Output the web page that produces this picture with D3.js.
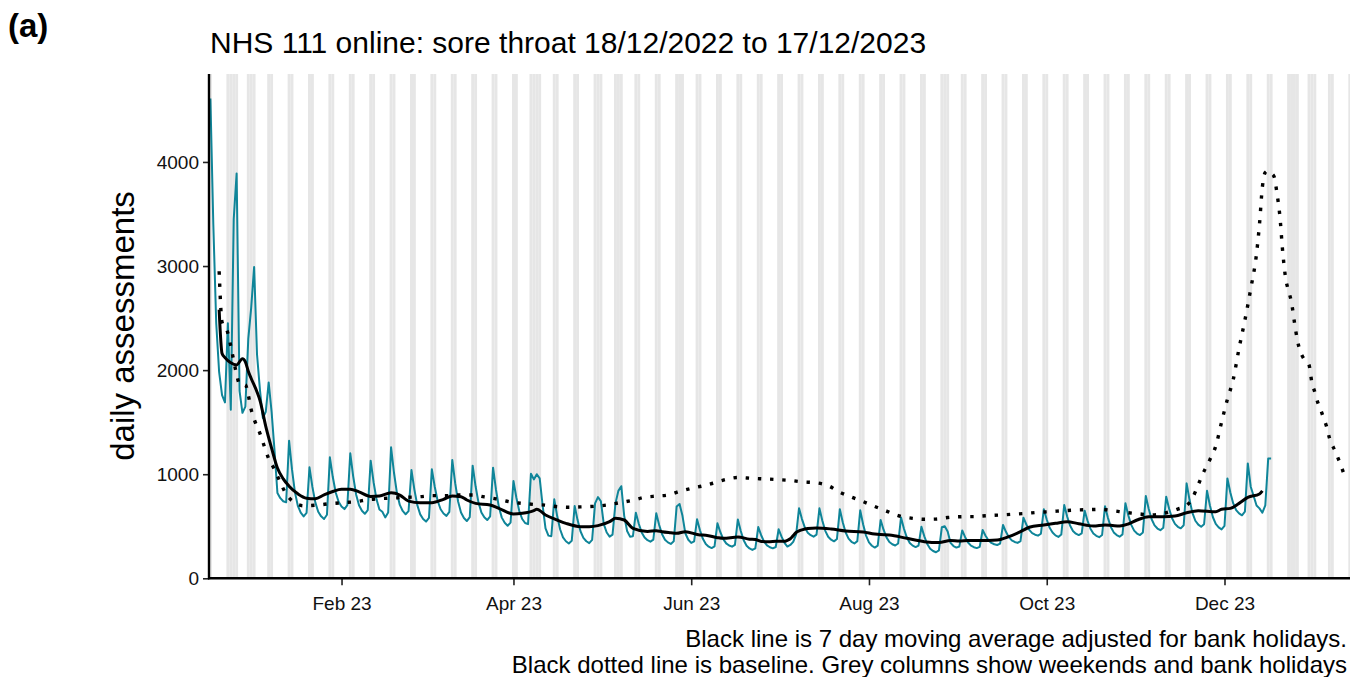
<!DOCTYPE html>
<html>
<head>
<meta charset="utf-8">
<script src="https://cdnjs.cloudflare.com/ajax/libs/d3/7.8.5/d3.min.js"></script>
<style>
  body { margin: 0; background: #ffffff; }
  svg { font-family: "Liberation Sans", Arial, sans-serif; display: block; }
</style>
</head>
<body>
<svg id="canvas"></svg>
<script>
// daily assessments, one row per week (Sun..Sat), from 18/12/2022
let firstDay = "2022-12-18"
let dailyValues = [
    4610, 3400, 2450, 1980, 1760, 1690, 2450,
    1620, 3450, 3890, 1800, 1590, 1650, 2300,
    2600, 2990, 2150, 1810, 1540, 1600, 1880,
    1600, 1230, 820, 770, 740, 730, 1322,
    1046, 828, 697, 631, 595, 628, 1066,
    878, 729, 639, 595, 570, 611, 1162,
    973, 824, 735, 690, 665, 703, 1201,
    980, 806, 701, 649, 620, 656, 1130,
    923, 759, 661, 640, 585, 632, 1258,
    1014, 821, 705, 647, 615, 645, 1040,
    852, 703, 614, 570, 545, 580, 1047,
    877, 743, 663, 622, 600, 638, 1137,
    914, 738, 632, 579, 550, 587, 1082,
    884, 727, 633, 586, 560, 595, 1063,
    851, 684, 583, 533, 505, 535, 935,
    774, 646, 570, 531, 520, 1005, 950,
    1000, 960, 700, 480, 410, 405, 759,
    598, 471, 394, 356, 335, 360, 695,
    559, 452, 388, 356, 338, 369, 720,
    780, 740, 520, 440, 400, 420, 720,
    840, 885, 600, 455, 400, 405, 630,
    524, 441, 391, 366, 352, 371, 624,
    512, 424, 371, 345, 330, 355, 690,
    714, 600, 430, 370, 340, 355, 567,
    462, 379, 329, 304, 290, 307, 528,
    443, 376, 335, 315, 304, 322, 565,
    454, 366, 313, 287, 272, 287, 492,
    414, 353, 317, 298, 288, 301, 471,
    400, 340, 305, 320, 350, 420, 672,
    569, 487, 438, 414, 400, 419, 672,
    552, 456, 399, 371, 355, 377, 663,
    538, 440, 381, 351, 335, 357, 653,
    517, 410, 345, 313, 295, 314, 560,
    467, 393, 349, 327, 315, 334, 584,
    476, 391, 340, 314, 300, 314, 496,
    403, 329, 284, 262, 250, 268, 490,
    500, 450, 340, 310, 295, 305, 460,
    395, 344, 314, 299, 290, 302, 464,
    409, 366, 340, 327, 320, 333, 512,
    447, 395, 365, 349, 340, 357, 582,
    517, 465, 434, 419, 410, 428, 663,
    565, 485, 440, 412, 398, 420, 704,
    594, 507, 455, 429, 415, 431, 650,
    553, 477, 431, 408, 395, 416, 692,
    581, 493, 441, 415, 400, 422, 720,
    604, 513, 458, 430, 415, 441, 790,
    665, 567, 508, 478, 462, 485, 784,
    668, 577, 523, 495, 480, 510, 912,
    754, 628, 553, 516, 495, 519, 841,
    700, 589, 522, 489, 470, 504, 960,
    825, 719, 655, 623, 605, 640, 1104,
    880, 790, 700, 672, 630, 700, 1150,
    1150
]

// 7 day moving average (adjusted for bank holidays)
let maDates = [
    "2022-12-21", "2022-12-22", "2022-12-23", "2022-12-25", "2022-12-27", "2022-12-29", "2022-12-30", "2022-12-31",
    "2023-01-01", "2023-01-03", "2023-01-04", "2023-01-06", "2023-01-08", "2023-01-10", "2023-01-12", "2023-01-14",
    "2023-01-17", "2023-01-20", "2023-01-23", "2023-01-26", "2023-01-29", "2023-02-01", "2023-02-04", "2023-02-07",
    "2023-02-11", "2023-02-14", "2023-02-18", "2023-02-21", "2023-02-24", "2023-02-28", "2023-03-04", "2023-03-08",
    "2023-03-11", "2023-03-14", "2023-03-16", "2023-03-19", "2023-03-24", "2023-03-27", "2023-04-01", "2023-04-04",
    "2023-04-08", "2023-04-09", "2023-04-12", "2023-04-16", "2023-04-19", "2023-04-24", "2023-04-27", "2023-04-30",
    "2023-05-04", "2023-05-06", "2023-05-09", "2023-05-12", "2023-05-17", "2023-05-20", "2023-05-22", "2023-05-25",
    "2023-05-27", "2023-05-30", "2023-06-04", "2023-06-06", "2023-06-10", "2023-06-12", "2023-06-17", "2023-06-21",
    "2023-06-23", "2023-06-25", "2023-06-28", "2023-06-30", "2023-07-03", "2023-07-04", "2023-07-05", "2023-07-06",
    "2023-07-07", "2023-07-08", "2023-07-09", "2023-07-11", "2023-07-14", "2023-07-19", "2023-07-24", "2023-07-30",
    "2023-08-03", "2023-08-05", "2023-08-08", "2023-08-14", "2023-08-20", "2023-08-25", "2023-08-29", "2023-09-01",
    "2023-09-04", "2023-09-08", "2023-09-14", "2023-09-18", "2023-09-22", "2023-09-25", "2023-09-30", "2023-10-04",
    "2023-10-08", "2023-10-12", "2023-10-17", "2023-10-21", "2023-10-23", "2023-10-26", "2023-10-29", "2023-11-01",
    "2023-11-05", "2023-11-10", "2023-11-14", "2023-11-18", "2023-11-22", "2023-11-28", "2023-11-30", "2023-12-03",
    "2023-12-06", "2023-12-09", "2023-12-13", "2023-12-14"
]
let maValues = [
    2580, 2160, 2120, 2070, 2050, 2110, 2080, 1990,
    1920, 1790, 1710, 1460, 1250, 1060, 955, 885,
    812, 770, 765, 802, 834, 855, 855, 830,
    786, 790, 822, 800, 742, 726, 726, 759,
    791, 784, 752, 720, 704, 672, 618, 624,
    650, 663, 608, 560, 528, 496, 496, 506,
    544, 576, 560, 480, 450, 458, 448, 438,
    432, 448, 416, 414, 390, 384, 397, 376,
    372, 354, 352, 355, 355, 365, 380, 410,
    440, 455, 465, 478, 484, 474, 455, 445,
    425, 420, 416, 384, 352, 343, 364, 358,
    362, 362, 368, 400, 448, 490, 512, 528,
    544, 524, 502, 512, 509, 502, 522, 560,
    592, 592, 598, 630, 650, 640, 663, 672,
    720, 778, 810, 840
]

// baseline
let baseDates = [
    "2022-12-21", "2022-12-22", "2022-12-24", "2022-12-25", "2022-12-27", "2022-12-28", "2022-12-30", "2022-12-31",
    "2023-01-01", "2023-01-02", "2023-01-04", "2023-01-05", "2023-01-07", "2023-01-09", "2023-01-11", "2023-01-13",
    "2023-01-15", "2023-01-19", "2023-01-24", "2023-01-28", "2023-02-02", "2023-02-06", "2023-02-10", "2023-02-15",
    "2023-02-19", "2023-02-23", "2023-02-28", "2023-03-04", "2023-03-09", "2023-03-13", "2023-03-18", "2023-03-22",
    "2023-03-26", "2023-03-31", "2023-04-04", "2023-04-08", "2023-04-12", "2023-04-16", "2023-04-20", "2023-04-24",
    "2023-04-29", "2023-05-03", "2023-05-07", "2023-05-12", "2023-05-16", "2023-05-20", "2023-05-24", "2023-05-28",
    "2023-06-01", "2023-06-05", "2023-06-09", "2023-06-13", "2023-06-17", "2023-06-22", "2023-06-26", "2023-07-01",
    "2023-07-05", "2023-07-09", "2023-07-14", "2023-07-18", "2023-07-22", "2023-07-26", "2023-07-30", "2023-08-03",
    "2023-08-07", "2023-08-11", "2023-08-16", "2023-08-20", "2023-08-24", "2023-08-28", "2023-09-02", "2023-09-06",
    "2023-09-10", "2023-09-15", "2023-09-19", "2023-09-24", "2023-09-28", "2023-10-02", "2023-10-07", "2023-10-11",
    "2023-10-16", "2023-10-20", "2023-10-24", "2023-10-29", "2023-11-02", "2023-11-06", "2023-11-11", "2023-11-15",
    "2023-11-18", "2023-11-20", "2023-11-22", "2023-11-24", "2023-11-26", "2023-11-28", "2023-11-30", "2023-12-02",
    "2023-12-04", "2023-12-06", "2023-12-08", "2023-12-10", "2023-12-12", "2023-12-13", "2023-12-14", "2023-12-15",
    "2023-12-16", "2023-12-17", "2023-12-18", "2023-12-19", "2023-12-20", "2023-12-21", "2023-12-22", "2023-12-23",
    "2023-12-24", "2023-12-25", "2023-12-26", "2023-12-27", "2023-12-28", "2023-12-30", "2023-12-31", "2024-01-01",
    "2024-01-02", "2024-01-03", "2024-01-04", "2024-01-05", "2024-01-06", "2024-01-08", "2024-01-10", "2024-01-11"
]
let baseValues = [
    2950, 2460, 2355, 2230, 1960, 1866, 1860, 1760,
    1620, 1530, 1393, 1310, 1150, 1045, 920, 810,
    745, 697, 704, 717, 728, 736, 755, 767,
    772, 778, 784, 794, 794, 800, 800, 782,
    763, 734, 720, 710, 703, 688, 682, 686,
    692, 704, 724, 750, 778, 790, 800, 835,
    864, 888, 918, 950, 968, 960, 955, 948,
    940, 927, 917, 890, 827, 780, 737, 690,
    646, 602, 576, 567, 569, 584, 592, 593,
    601, 608, 615, 624, 634, 640, 650, 656,
    660, 662, 648, 630, 618, 608, 630, 665,
    700, 770, 900, 1030, 1140, 1270, 1500, 1720,
    1910, 2210, 2480, 2780, 3120, 3400, 3760, 3900,
    3915, 3890, 3860, 3700, 3480, 3130, 2880, 2760,
    2650, 2460, 2290, 2180, 2120, 2050, 1880, 1790,
    1690, 1620, 1540, 1460, 1350, 1220, 1080, 1000
]

let bankHolidays = [
    "2022-12-26", "2022-12-27", "2023-01-02", "2023-04-07", "2023-04-10", "2023-05-01",
    "2023-05-08", "2023-05-29", "2023-08-28", "2023-12-25", "2023-12-26", "2024-01-01"
]

let yTicks = [0, 1000, 2000, 3000, 4000]
let xTicks = ["2023-02-01", "2023-04-01", "2023-06-01", "2023-08-01", "2023-10-01", "2023-12-01"]
let xTickLabels = ["Feb 23", "Apr 23", "Jun 23", "Aug 23", "Oct 23", "Dec 23"]

let width = 1350
let height = 677
let panelLeft = 208
let panelRight = 1350
let panelTop = 74
let panelBottom = 578.3

let parseDate = d3.utcParse("%Y-%m-%d")
let formatDate = d3.utcFormat("%Y-%m-%d")

let canvas = d3.select("#canvas")
                .attr("width", width)
                .attr("height", height)

let xScale = d3.scaleUtc()
                .domain([parseDate("2022-12-18"), parseDate("2024-01-13")])
                .range([210.4, 1349.8])

let yScale = d3.scaleLinear()
                .domain([0, 4845])
                .range([panelBottom, panelTop])

canvas.append("clipPath")
        .attr("id", "panel")
        .append("rect")
        .attr("x", panelLeft)
        .attr("y", panelTop)
        .attr("width", panelRight - panelLeft)
        .attr("height", panelBottom - panelTop)

// grey columns: weekends and bank holidays
let holidaySet = new Set(bankHolidays)
let greyDays = d3.utcDays(parseDate("2022-12-17"), parseDate("2024-01-14"))
                .filter((d) => {
                    let wd = d.getUTCDay()
                    return wd == 0 || wd == 6 || holidaySet.has(formatDate(d))
                })

canvas.append("g")
        .attr("clip-path", "url(#panel)")
        .selectAll("rect")
        .data(greyDays)
        .enter()
        .append("rect")
        .attr("x", (d) => xScale(d3.utcHour.offset(d, -12)))
        .attr("width", (d) => xScale(d3.utcHour.offset(d, 12)) - xScale(d3.utcHour.offset(d, -12)))
        .attr("y", panelTop)
        .attr("height", panelBottom - panelTop)
        .attr("fill", "#e6e6e6")

let start = parseDate(firstDay)
let dailyLine = d3.line()
                    .x((v, i) => xScale(d3.utcDay.offset(start, i)))
                    .y((v) => yScale(v))

canvas.append("path")
        .datum(dailyValues)
        .attr("d", dailyLine)
        .attr("fill", "none")
        .attr("stroke", "#0f8599")
        .attr("stroke-width", 2)
        .attr("stroke-linejoin", "round")

let pointLine = d3.line()
                    .x((p) => xScale(p[0]))
                    .y((p) => yScale(p[1]))
                    .curve(d3.curveMonotoneX)

let basePoints = baseDates.map((d, i) => [parseDate(d), baseValues[i]])
let maPoints = maDates.map((d, i) => [parseDate(d), maValues[i]])

canvas.append("path")
        .datum(basePoints)
        .attr("d", pointLine)
        .attr("fill", "none")
        .attr("stroke", "#000")
        .attr("stroke-width", 3.4)
        .attr("stroke-dasharray", "3.4 8.8")

canvas.append("path")
        .datum(maPoints)
        .attr("d", pointLine)
        .attr("fill", "none")
        .attr("stroke", "#000")
        .attr("stroke-width", 3)
        .attr("stroke-linejoin", "round")

// axes
let yAxis = d3.axisLeft(yScale)
                .tickValues(yTicks)
                .tickFormat(d3.format("d"))
                .tickSize(6)
                .tickSizeOuter(0)
                .tickPadding(4)

let yG = canvas.append("g")
                .attr("transform", "translate(" + 209 + ",0)")
                .call(yAxis)
                .attr("font-size", null)
                .attr("font-family", null)
yG.select(".domain").remove()
yG.selectAll(".tick line").attr("stroke", "#222").attr("stroke-width", 1.6)
yG.selectAll(".tick text").attr("fill", "#111").style("font-size", "19px")

let xAxis = d3.axisBottom(xScale)
                .tickValues(xTicks.map(parseDate))
                .tickFormat((d, i) => xTickLabels[i])
                .tickSize(7)
                .tickSizeOuter(0)
                .tickPadding(11)

let xG = canvas.append("g")
                .attr("transform", "translate(0," + panelBottom + ")")
                .call(xAxis)
                .attr("font-size", null)
                .attr("font-family", null)
xG.select(".domain").remove()
xG.selectAll(".tick line").attr("stroke", "#222").attr("stroke-width", 1.6)
xG.selectAll(".tick text").attr("fill", "#111").style("font-size", "19px")

canvas.append("line")
        .attr("x1", 209).attr("x2", 209)
        .attr("y1", panelTop).attr("y2", panelBottom + 1)
        .attr("stroke", "#000")
        .attr("stroke-width", 2.4)

canvas.append("line")
        .attr("x1", 208).attr("x2", panelRight)
        .attr("y1", panelBottom).attr("y2", panelBottom)
        .attr("stroke", "#000")
        .attr("stroke-width", 2.4)

// texts
canvas.append("text")
        .attr("x", 8)
        .attr("y", 37)
        .style("font-size", "33px")
        .style("font-weight", "bold")
        .text("(a)")

canvas.append("text")
        .attr("x", 210)
        .attr("y", 53)
        .style("font-size", "30px")
        .text("NHS 111 online: sore throat 18/12/2022 to 17/12/2023")

canvas.append("text")
        .attr("transform", "translate(122," + 326 + ") rotate(-90)")
        .attr("text-anchor", "middle")
        .attr("dominant-baseline", "central")
        .style("font-size", "33px")
        .text("daily assessments")

let captionLines = [
    "Black line is 7 day moving average adjusted for bank holidays.",
    "Black dotted line is baseline. Grey columns show weekends and bank holidays"
]

canvas.selectAll(".caption")
        .data(captionLines)
        .enter()
        .append("text")
        .attr("class", "caption")
        .attr("x", 1347)
        .attr("y", (d, i) => 647 + i * 26)
        .attr("text-anchor", "end")
        .style("font-size", "24px")
        .text((d) => d)
</script>
</body>
</html>
